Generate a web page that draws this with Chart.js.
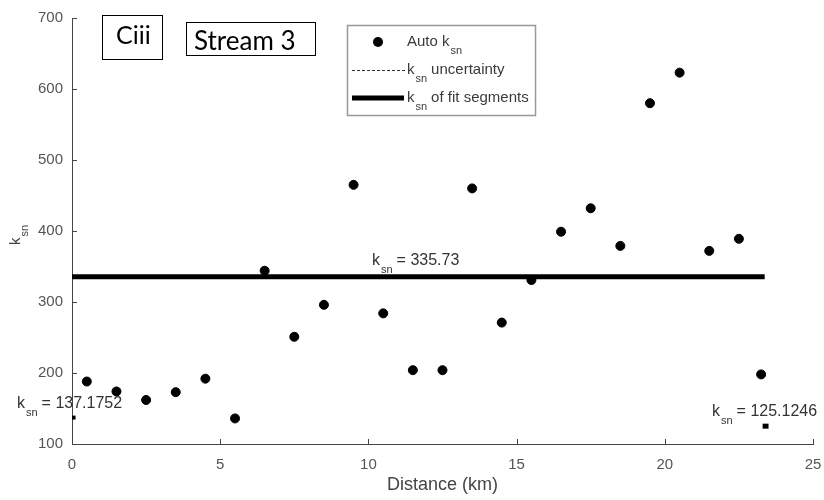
<!DOCTYPE html>
<html>
<head>
<meta charset="utf-8">
<script src="https://cdn.jsdelivr.net/npm/chart.js@4/dist/chart.umd.min.js"></script>
<style>
  html, body { margin: 0; padding: 0; background: #fff; }
  #wrap { width: 824px; height: 500px; }
</style>
</head>
<body>
<div id="wrap"><canvas id="chart" width="824" height="500"></canvas></div>
<script>
// values
const distance = [0.5, 1.5, 2.5, 3.5, 4.5, 5.5, 6.5, 7.5, 8.5, 9.5, 10.5, 11.5,
  12.5, 13.5, 14.5, 15.5, 16.5, 17.5, 18.5, 19.5, 20.5, 21.5, 22.5, 23.25]
const autoKsn = [188, 174, 162, 173, 192, 136, 344, 251, 296, 465, 284, 204,
  204, 460, 271, 331, 399, 432, 379, 580, 623, 372, 389, 198]

// fit segments: [xStart, xEnd] and value
const mainSegX = [0, 23.37]
const mainSegKsn = 335.73
const leftSegX = [0, 0.12]
const leftSegKsn = 137.1752
const rightSegX = [23.3, 23.5]
const rightSegKsn = 125.1246

const xTicks = [0, 5, 10, 15, 20, 25]
const yTicks = [100, 200, 300, 400, 500, 600, 700]

const FONT = '"Liberation Sans", Arial, sans-serif'

const seg = (xs, v) => xs.map(x => ({ x: x, y: v }))

// draws "k" with subscript "sn", then the rest of the text
const drawKsn = (ctx, x, y, rest, size) => {
  ctx.font = size + 'px ' + FONT
  ctx.textBaseline = 'alphabetic'
  ctx.textAlign = 'left'
  ctx.fillText('k', x, y)
  let cx = x + ctx.measureText('k').width + 1
  ctx.font = Math.round(size * 0.7) + 'px ' + FONT
  ctx.fillText('sn', cx, y + size * 0.5)
  cx += ctx.measureText('sn').width + 4
  ctx.font = size + 'px ' + FONT
  if (rest) ctx.fillText(rest, cx, y)
}

const extras = {
  id: 'extras',
  afterDraw: (chart) => {
    const ctx = chart.ctx
    const xs = chart.scales.x
    const ys = chart.scales.y
    const area = chart.chartArea
    ctx.save()

    // inward tick marks
    ctx.strokeStyle = '#444'
    ctx.lineWidth = 1
    xTicks.forEach(t => {
      const px = Math.round(xs.getPixelForValue(t)) + 0.5
      ctx.beginPath(); ctx.moveTo(px, area.bottom); ctx.lineTo(px, area.bottom - 5); ctx.stroke()
    })
    yTicks.forEach(t => {
      const py = Math.round(ys.getPixelForValue(t)) + 0.5
      ctx.beginPath(); ctx.moveTo(area.left, py); ctx.lineTo(area.left + 5, py); ctx.stroke()
    })

    // segment labels
    ctx.fillStyle = '#333'
    drawKsn(ctx, 372, 265, '= 335.73', 16)
    drawKsn(ctx, 17, 408, '= 137.1752', 16)
    drawKsn(ctx, 712, 416, '= 125.1246', 16)

    // y axis title
    ctx.save()
    ctx.translate(20, 245)
    ctx.rotate(-Math.PI / 2)
    ctx.fillStyle = '#444'
    drawKsn(ctx, 0, 0, '', 15)
    ctx.restore()

    // legend
    const lx = 347, ly = 25, lw = 188, lh = 90
    ctx.fillStyle = '#fff'
    ctx.fillRect(lx, ly, lw, lh)
    ctx.strokeStyle = '#999'
    ctx.lineWidth = 1.5
    ctx.strokeRect(lx + 0.5, ly + 0.5, lw, lh)
    ctx.fillStyle = '#000'
    ctx.beginPath(); ctx.arc(378, 42, 5, 0, Math.PI * 2); ctx.fill()
    ctx.strokeStyle = '#333'
    ctx.lineWidth = 1
    ctx.setLineDash([3, 2])
    ctx.beginPath(); ctx.moveTo(352, 70.5); ctx.lineTo(405, 70.5); ctx.stroke()
    ctx.setLineDash([])
    ctx.strokeStyle = '#000'
    ctx.lineWidth = 5
    ctx.beginPath(); ctx.moveTo(352, 98); ctx.lineTo(404, 98); ctx.stroke()
    ctx.fillStyle = '#3a3a3a'
    ctx.font = '15px ' + FONT
    ctx.textAlign = 'left'
    ctx.textBaseline = 'alphabetic'
    ctx.fillText('Auto', 407, 46)
    drawKsn(ctx, 407 + ctx.measureText('Auto ').width, 46, '', 15)
    drawKsn(ctx, 407, 74, 'uncertainty', 15)
    drawKsn(ctx, 407, 102, 'of fit segments', 15)

    // panel labels
    ctx.fillStyle = '#fff'
    ctx.strokeStyle = '#000'
    ctx.lineWidth = 1
    ctx.fillRect(102, 15, 60, 44)
    ctx.strokeRect(102.5, 15.5, 60, 44)
    ctx.strokeRect(186.5, 22.5, 129, 33)
    ctx.fillStyle = '#000'
    ctx.font = '25px Lato, "Open Sans", sans-serif'
    ctx.fillText('Ciii', 116, 44)
    ctx.font = '26px Lato, "Open Sans", sans-serif'
    ctx.fillText('Stream 3', 194, 50)

    ctx.restore()
  }
}

new Chart(document.getElementById('chart'), {
  type: 'scatter',
  data: {
    datasets: [
      {
        label: 'Auto ksn',
        data: distance.map((d, i) => ({ x: d, y: autoKsn[i] })),
        backgroundColor: '#000',
        borderColor: '#000',
        pointRadius: 4.5,
        order: 1
      },
      {
        label: 'ksn of fit segments',
        type: 'line',
        data: seg(mainSegX, mainSegKsn),
        borderColor: '#000',
        borderWidth: 5,
        pointRadius: 0,
        order: 2
      },
      {
        label: 'left segment',
        type: 'line',
        data: seg(leftSegX, leftSegKsn),
        borderColor: '#000',
        borderWidth: 4,
        pointRadius: 0
      },
      {
        label: 'right segment',
        type: 'line',
        data: seg(rightSegX, rightSegKsn),
        borderColor: '#000',
        borderWidth: 5,
        pointRadius: 0
      }
    ]
  },
  options: {
    responsive: false,
    animation: false,
    layout: { padding: { left: 0, right: 0, top: 16, bottom: 0 } },
    plugins: {
      legend: { display: false },
      tooltip: { enabled: false }
    },
    scales: {
      x: {
        type: 'linear',
        min: 0,
        max: 25,
        afterBuildTicks: (s) => { s.ticks = xTicks.map(v => ({ value: v })) },
        // fixed height, and keep the right edge where the original has it
        afterFit: (s) => { s.height = 56; s.paddingRight = 11 },
        ticks: { color: '#555', font: { family: FONT, size: 15 }, padding: 12 },
        grid: { display: false, drawTicks: false },
        border: { display: true, color: '#444', width: 1 },
        title: {
          display: true,
          text: 'Distance (km)',
          color: '#444',
          font: { family: FONT, size: 18 },
          padding: { top: 0 }
        }
      },
      y: {
        min: 100,
        max: 700,
        afterBuildTicks: (s) => { s.ticks = yTicks.map(v => ({ value: v })) },
        afterFit: (s) => { s.width = 72 },
        ticks: { color: '#555', font: { family: FONT, size: 15 }, padding: 9 },
        grid: { display: false, drawTicks: false },
        border: { display: true, color: '#444', width: 1 }
      }
    }
  },
  plugins: [extras]
})
</script>
</body>
</html>
